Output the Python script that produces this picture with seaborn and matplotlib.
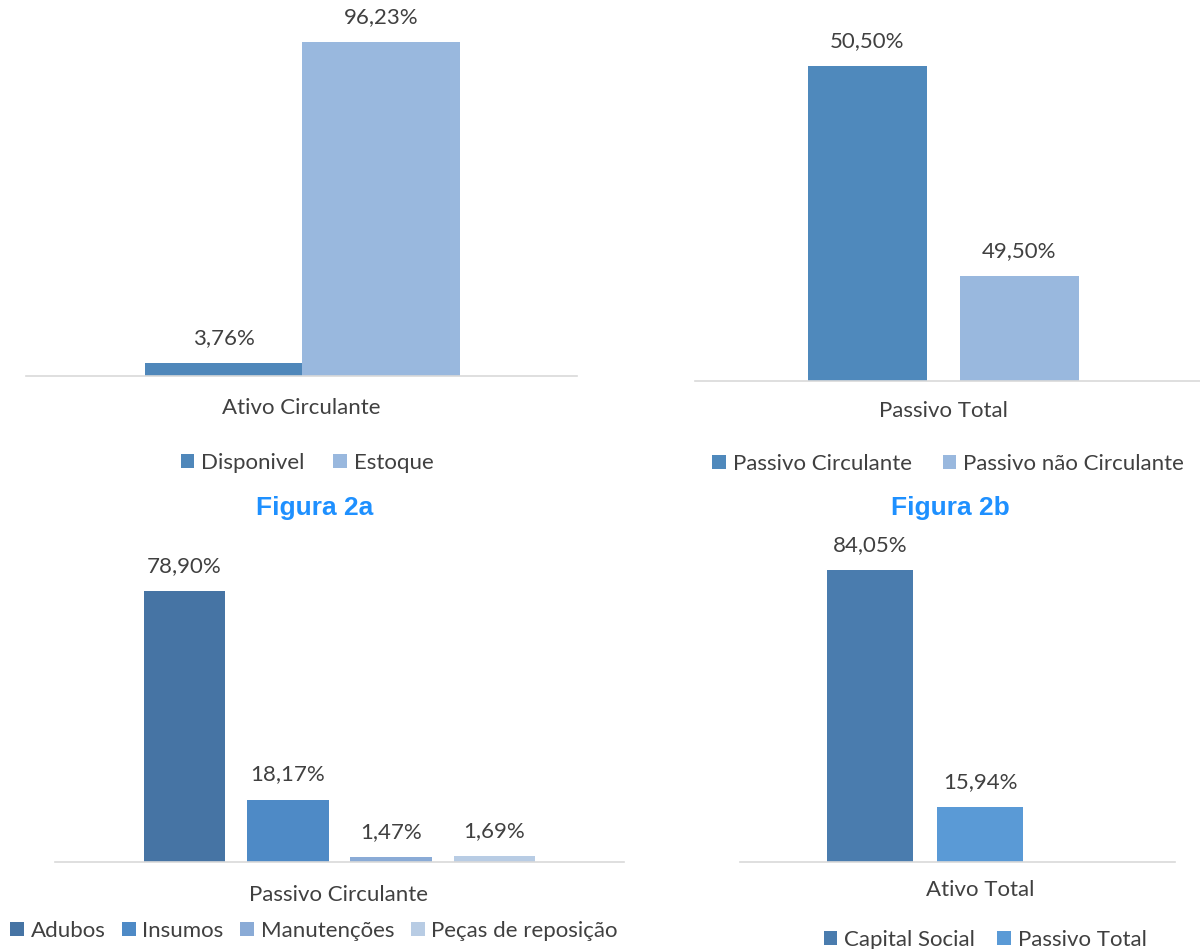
import matplotlib
matplotlib.use("Agg")
import matplotlib.pyplot as plt
from matplotlib.patches import Patch
import pandas as pd
import seaborn as sns

# ---- data -------------------------------------------------------------
cat_a = "Ativo Circulante"
series_a = ["Disponivel", "Estoque"]
values_a = [3.76, 96.23]

cat_b = "Passivo Total"
series_b = ["Passivo Circulante", "Passivo não Circulante"]
values_b = [50.50, 49.50]

cat_c = "Passivo Circulante"
series_c = ["Adubos", "Insumos", "Manutenções", "Peças de reposição"]
values_c = [78.90, 18.17, 1.47, 1.69]

cat_d = "Ativo Total"
series_d = ["Capital Social", "Passivo Total"]
values_d = [84.05, 15.94]

colors_a = ["#4F87BA", "#99B8DE"]
colors_b = ["#4F89BC", "#99B8DE"]
colors_c = ["#4674A4", "#4E8AC6", "#8AABD6", "#B8CCE4"]
colors_d = ["#4A7CAE", "#5A9AD6"]

captions = ["Figura 2a", "Figura 2b"]

# ---- style ------------------------------------------------------------
sns.set_theme(style="white")
plt.rcParams["font.family"] = ["Lato", "DejaVu Sans"]
TXT = "#404040"
FS = 16

W, H = 1200, 949
fig = plt.figure(figsize=(W / 100, H / 100), dpi=100)


def px_axes(x0, x1, y0, y1):
    """Axes placed by pixel box (top-left origin)."""
    return fig.add_axes([x0 / W, 1 - y1 / H, (x1 - x0) / W, (y1 - y0) / H])


def panel(ax, cat, series, values, colors, gap, xlim, ylim, label_x, label_drop,
          legend_xy, col_spacing):
    df = pd.DataFrame({"grupo": [cat] * len(series), "serie": series, "valor": values})
    sns.barplot(data=df, x="grupo", y="valor", hue="serie", hue_order=series,
                palette=colors, width=0.8, gap=gap, saturation=1, legend=False,
                ax=ax, linewidth=0)
    ax.set_xlim(*xlim)
    ax.set_ylim(*ylim)
    for spine in ["left", "right", "top"]:
        ax.spines[spine].set_visible(False)
    ax.spines["bottom"].set_color("#D9D9D9")
    ax.spines["bottom"].set_linewidth(1.2)
    ax.set_yticks([])
    ax.set_xticks([])
    ax.set_ylabel("")
    ax.set_xlabel("")
    # category name below the baseline
    ax.annotate(cat, (label_x, 0), xycoords="axes fraction",
                xytext=(0, -label_drop), textcoords="offset pixels",
                ha="center", va="center", fontsize=FS, color=TXT,
                annotation_clip=False)
    # value labels
    for bars in ax.containers:
        for rect, v in zip(bars, bars.datavalues):
            ax.annotate(f"{v:.2f}%".replace(".", ","),
                        (rect.get_x() + rect.get_width() / 2, v),
                        xytext=(0, 25), textcoords="offset pixels",
                        ha="center", va="center", fontsize=FS, color=TXT,
                        annotation_clip=False)
    handles = [Patch(facecolor=c, edgecolor="none", label=s) for s, c in zip(series, colors)]
    fig.legend(handles=handles, loc="center", ncol=len(series),
               bbox_to_anchor=(legend_xy[0] / W, 1 - legend_xy[1] / H),
               frameon=False, fontsize=FS, labelcolor=TXT,
               handlelength=0.62, handleheight=0.62, handletextpad=0.3,
               columnspacing=col_spacing, borderpad=0, borderaxespad=0)


# Figura 2a
ax_a = px_axes(26, 577, 0, 376)
panel(ax_a, cat_a, series_a, values_a, colors_a, gap=0,
      xlim=(-0.702, 0.697), ylim=(0, 376 / 3.471), label_x=0.5, label_drop=32,
      legend_xy=(307, 463), col_spacing=1.3)

# Figura 2b (value axis starts at 49, as in the spreadsheet chart)
ax_b = px_axes(695, 1200, 0, 381)
panel(ax_b, cat_b, series_b, values_b, colors_b, gap=0.217,
      xlim=(-0.654, 0.675), ylim=(49, 49 + 381 / 210), label_x=0.491, label_drop=30,
      legend_xy=(948, 464), col_spacing=1.4)

# Figura 2c
ax_c = px_axes(55, 624, 530, 862)
panel(ax_c, cat_c, series_c, values_c, colors_c, gap=0.21,
      xlim=(-0.551, 0.551), ylim=(0, 332 / 3.435), label_x=0.499, label_drop=33,
      legend_xy=(314, 931), col_spacing=0.75)

# Figura 2d
ax_d = px_axes(740, 1175, 530, 862)
panel(ax_d, cat_d, series_d, values_d, colors_d, gap=0.22,
      xlim=(-0.670, 0.906), ylim=(0, 332 / 3.474), label_x=0.552, label_drop=28,
      legend_xy=(985, 940), col_spacing=1.0)

# captions
for text, x in zip(captions, [315, 950]):
    fig.text(x / W, 1 - 508 / H, text, ha="center", va="center",
             fontsize=19, fontweight="bold", color="#1E90FF",
             family=["Liberation Sans", "DejaVu Sans"])

fig.savefig("out.png", dpi=100, facecolor="white")
